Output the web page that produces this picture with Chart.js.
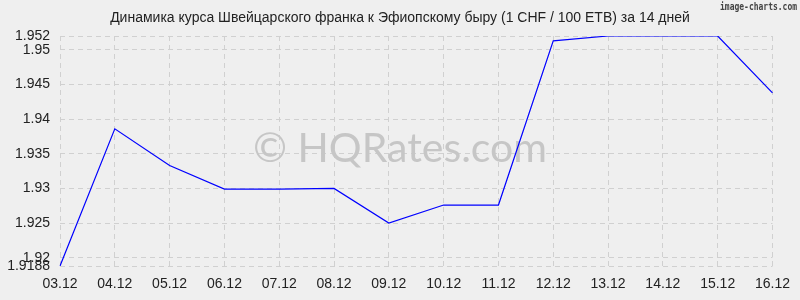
<!DOCTYPE html>
<html>
<head>
<meta charset="utf-8">
<script src="https://cdn.jsdelivr.net/npm/chart.js@4/dist/chart.umd.min.js"></script>
<style>
  html, body { margin: 0; padding: 0; background: #efefef; }
  #wrap { width: 800px; height: 300px; position: relative; }
</style>
</head>
<body>
<div id="wrap"><canvas id="chart" width="800" height="300"></canvas></div>
<script>
const dates = ['03.12', '04.12', '05.12', '06.12', '07.12', '08.12', '09.12',
    '10.12', '11.12', '12.12', '13.12', '14.12', '15.12', '16.12']
const rates = [1.9188, 1.9386, 1.9333, 1.9299, 1.9299, 1.9300, 1.9250,
    1.9276, 1.9276, 1.9513, 1.9520, 1.9520, 1.9520, 1.9438]
const yTicks = [1.9188, 1.92, 1.925, 1.93, 1.935, 1.94, 1.945, 1.95, 1.952]
const titleText = 'Динамика курса Швейцарского франка к Эфиопскому быру (1 CHF / 100 ETB) за 14 дней'

const decor = {
    id: 'decor',
    beforeDraw(chart) {
        const ctx = chart.ctx
        ctx.save()
        ctx.fillStyle = '#efefef'
        ctx.fillRect(0, 0, chart.width, chart.height)
        ctx.restore()
    },
    beforeDatasetsDraw(chart) {
        const ctx = chart.ctx
        ctx.save()
        ctx.fillStyle = '#c6c6c6'
        ctx.font = '41px Lato'
        ctx.textAlign = 'center'
        ctx.textBaseline = 'alphabetic'
        ctx.fillText('© HQRates.com', 400, 162)
        ctx.restore()
    },
    afterDraw(chart) {
        const ctx = chart.ctx
        ctx.save()
        ctx.fillStyle = '#222'
        ctx.font = '14px "Liberation Sans"'
        ctx.textAlign = 'center'
        ctx.textBaseline = 'middle'
        ctx.fillText(titleText, 400, 18)
        ctx.fillStyle = '#444'
        ctx.font = 'bold 10px "DejaVu Sans Mono"'
        ctx.textAlign = 'right'
        ctx.fillText('image-charts.com', 797, 7, 77)
        ctx.restore()
    }
}

new Chart(document.getElementById('chart').getContext('2d'), {
    type: 'line',
    data: {
        labels: dates,
        datasets: [{
            data: rates,
            borderColor: '#0000ff',
            borderWidth: 1.2,
            pointRadius: 0,
            tension: 0,
            fill: false
        }]
    },
    options: {
        responsive: false,
        animation: false,
        events: [],
        layout: { padding: { top: 36, right: 20, left: 0, bottom: 0 } },
        plugins: { legend: { display: false }, tooltip: { enabled: false } },
        scales: {
            x: {
                offset: false,
                border: { display: false, dash: [5, 4] },
                grid: { color: '#d0d0d0', drawTicks: false },
                ticks: {
                    padding: 10,
                    color: '#222',
                    font: { family: '"Liberation Sans"', size: 14 },
                    maxRotation: 0,
                    autoSkip: false
                },
                afterFit(s) { s.height = 34 }
            },
            y: {
                min: 1.9188,
                max: 1.952,
                border: { display: false, dash: [5, 4] },
                grid: { color: '#d0d0d0', drawTicks: false },
                afterBuildTicks(s) { s.ticks = yTicks.map(v => ({ value: v })) },
                ticks: {
                    padding: 10,
                    color: '#222',
                    autoSkip: false,
                    font: { family: '"Liberation Sans"', size: 14 },
                    callback: v => String(v)
                },
                afterFit(s) { s.width = 60 }
            }
        }
    },
    plugins: [decor]
})
</script>
</body>
</html>
